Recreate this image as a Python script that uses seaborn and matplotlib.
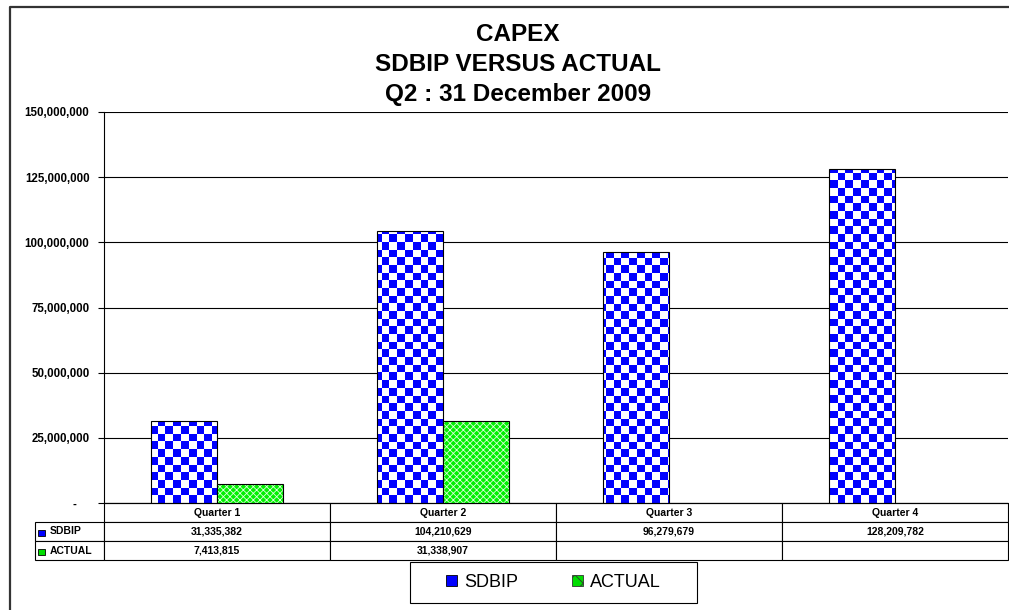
import numpy as np
import pandas as pd
import matplotlib.pyplot as plt
import seaborn as sns
from matplotlib.colors import ListedColormap
from matplotlib.patches import Rectangle, Patch
from matplotlib.lines import Line2D

# chart data
quarters = ['Quarter 1', 'Quarter 2', 'Quarter 3', 'Quarter 4']
series = ['SDBIP', 'ACTUAL']
sdbip = [31335382, 104210629, 96279679, 128209782]
actual = [7413815, 31338907, np.nan, np.nan]
yticks = [0, 25000000, 50000000, 75000000, 100000000, 125000000, 150000000]
title_lines = ['CAPEX', 'SDBIP VERSUS ACTUAL', 'Q2 : 31 December 2009']

sns.set_style('white')
plt.rcParams['font.family'] = ['Liberation Sans', 'DejaVu Sans']
plt.rcParams['hatch.linewidth'] = 0.6
for k in ['text.color', 'axes.labelcolor', 'xtick.color', 'ytick.color']:
    plt.rcParams[k] = 'black'

W, H = 1009, 610
fig = plt.figure(figsize=(W / 100, H / 100), dpi=100)


def fx(px):
    return px / W


def fy(py):
    return 1 - py / H


ax = fig.add_axes([fx(104), fy(503), fx(1008) - fx(104), fy(112) - fy(503)])

df = pd.DataFrame({
    'quarter': quarters * 2,
    'series': ['SDBIP'] * 4 + ['ACTUAL'] * 4,
    'value': sdbip + actual,
})
sns.barplot(data=df, x='quarter', y='value', hue='series', order=quarters,
            hue_order=series, width=0.58, errorbar=None, legend=False,
            palette={'SDBIP': '#0000ff', 'ACTUAL': '#00ff00'}, ax=ax)

# checkerboard fill for the SDBIP bars
checks = np.indices((51, 117)).sum(axis=0) % 2
cmap = ListedColormap(['white', '#0000ff'])
for bar in ax.containers[0]:
    if np.isnan(bar.get_height()):
        continue
    bar.set_facecolor('none')
    bar.set_edgecolor('black')
    bar.set_linewidth(0.8)
    bar.set_zorder(3)
    im = ax.imshow(checks, cmap=cmap, extent=[0, 1, 0, 1], transform=ax.transAxes,
                   aspect='auto', interpolation='nearest', zorder=2)
    im.set_clip_path(bar)

# cross hatched green for ACTUAL
for bar in ax.containers[1]:
    if np.isnan(bar.get_height()):
        continue
    bar.set_facecolor('#00f000')
    bar.set_edgecolor('#d8ffd8')
    bar.set_hatch('xxxxx')
    bar.set_linewidth(0)
    bar.set_zorder(3)
    ax.add_patch(Rectangle(bar.get_xy(), bar.get_width(), bar.get_height(),
                           fill=False, edgecolor='black', lw=0.8, zorder=4))

ax.set_xlim(-0.5, 3.5)
ax.set_ylim(0, 150000000)
ax.set_yticks(yticks)
ax.set_yticklabels([f'{v:,.0f}' if v else '-    ' for v in yticks],
                   fontsize=8.3, fontweight='bold')
ax.tick_params(axis='y', left=True, length=4, width=0.8, pad=6.5, color='black')
ax.tick_params(axis='x', bottom=False, labelbottom=False)
ax.set_xlabel('')
ax.set_ylabel('')
ax.grid(axis='y', color='black', lw=0.8)
ax.set_axisbelow(True)
for s in ['top', 'right']:
    ax.spines[s].set_visible(False)
for s in ['left', 'bottom']:
    ax.spines[s].set_color('black')
    ax.spines[s].set_linewidth(0.8)

# data table under the chart
rows = [['SDBIP'] + [f'{v:,.0f}' for v in sdbip],
        ['ACTUAL'] + ['' if np.isnan(v) else f'{v:,.0f}' for v in actual]]
tab = ax.table(cellText=rows, colLabels=[''] + quarters, cellLoc='center',
               colWidths=[69 / 973] + [226 / 973] * 4,
               bbox=[(35 - 104) / 904, -57 / 391, 973 / 904, 57 / 391])
tab.auto_set_font_size(False)
tab.set_fontsize(7.5)
for (r, c), cell in tab.get_celld().items():
    cell.set_linewidth(0.8)
    cell.get_text().set_fontweight('bold')
    if c == 0:
        cell.get_text().set_ha('left')
        cell.PAD = 15 / 69
        if r == 0:
            cell.visible_edges = ''


def fig_rect(x0, y0, x1, y1, **kw):
    fig.add_artist(Rectangle((fx(x0), fy(y1)), fx(x1) - fx(x0), fy(y0) - fy(y1),
                             transform=fig.transFigure, **kw))


fig_rect(38, 530, 45, 536, facecolor='#0000ff', edgecolor='black', lw=0.6)
fig_rect(38, 549, 45, 555, facecolor='#00dd00', edgecolor='black', lw=0.6)

# title
for line, base in zip(title_lines, [41, 71, 101]):
    fig.text(fx(518), fy(base), line, ha='center', va='baseline',
             fontsize=17.5, fontweight='bold')

# legend with a plain box
handles = [Patch(facecolor='#0000ff', edgecolor='black', lw=0.6),
           Patch(facecolor='#00dd00', edgecolor='#333333', hatch='xx', lw=0.6)]
fig.legend(handles, series, ncol=2, loc='center', frameon=False,
           bbox_to_anchor=(fx(553.5), fy(582.5)), bbox_transform=fig.transFigure,
           fontsize=13, handlelength=0.6, handleheight=0.6,
           handletextpad=0.4, columnspacing=3.0)
fig_rect(410, 562, 697, 603, fill=False, edgecolor='black', lw=0.8)

# outer chart border
fig.add_artist(Line2D([fx(10), fx(10), 1.0], [0, fy(7), fy(7)],
                      transform=fig.transFigure, color='#333333', lw=1.6))

fig.savefig('out.png', dpi=100)
